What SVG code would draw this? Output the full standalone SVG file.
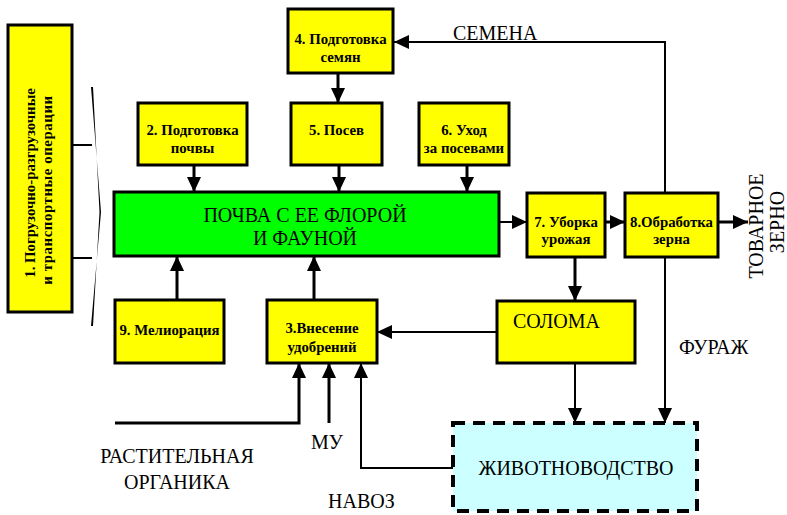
<svg xmlns="http://www.w3.org/2000/svg" width="787" height="515" viewBox="0 0 787 515">
<style>
.y{fill:#ffff00;stroke:#000;stroke-width:3}
.g{fill:#00ff00;stroke:#000;stroke-width:3}
.c{fill:#ccffff;stroke:#000;stroke-width:4;stroke-dasharray:12 8}
.b{font-family:'Liberation Serif','Times New Roman',Tinos,'DejaVu Serif',serif;font-weight:bold;font-size:14.8px;text-anchor:middle;fill:#000}
.t{font-family:'Liberation Serif','Times New Roman',Tinos,'DejaVu Serif',serif;font-size:20px;fill:#000}
.m{text-anchor:middle}
.k{fill:none;stroke:#000;stroke-width:3}
.n{fill:none;stroke:#000;stroke-width:2}
</style>
<defs>
<marker id="a" markerUnits="userSpaceOnUse" viewBox="0 0 15 14" refX="15" refY="7" markerWidth="15" markerHeight="14" orient="auto">
<path d="M0,0 L15,7 L0,14 Z" fill="#000"/>
</marker>
</defs>
<rect width="787" height="515" fill="#fff"/>
<g id="connectors">
<path class="k" d="M338,73 V103" marker-end="url(#a)"/>
<path class="k" d="M194,165 V192" marker-end="url(#a)"/>
<path class="k" d="M339,165 V192" marker-end="url(#a)"/>
<path class="k" d="M467,165 V192" marker-end="url(#a)"/>
<path class="n" d="M499,222 H527" marker-end="url(#a)"/>
<path class="k" d="M605,222 H625" marker-end="url(#a)"/>
<path class="k" d="M718,222 H748" marker-end="url(#a)"/>
<path class="n" d="M665,193 V42 H394" marker-end="url(#a)"/>
<path class="n" d="M665,257 V423" marker-end="url(#a)"/>
<path class="k" d="M575,257 V301" marker-end="url(#a)"/>
<path class="n" d="M575,363 V423" marker-end="url(#a)"/>
<path class="n" d="M497,332 H377" marker-end="url(#a)"/>
<path class="k" d="M177,300 V256" marker-end="url(#a)"/>
<path class="k" d="M314,300 V256" marker-end="url(#a)"/>
<path class="k" d="M115,423 H299 V363" marker-end="url(#a)"/>
<path class="k" d="M329,423 V363" marker-end="url(#a)"/>
<path class="n" d="M453,468 H361 V363" marker-end="url(#a)"/>
<path class="n" d="M72,145 H92 M72,258 H92"/>
<path d="M91,87 L101,212 L91,326 L93,326 L99.5,212 L93,87 Z" fill="#000"/>
</g>
<g id="n1">
<rect class="y" x="8" y="25" width="64" height="287"/>
<text class="b" transform="translate(35,183) rotate(-90)" font-size="14">1. Погрузочно-разгрузочные</text>
<text class="b" transform="translate(52,190) rotate(-90)" font-size="14" letter-spacing="0.6">и транспортные операции</text>
</g>
<g id="n4">
<rect class="y" x="288" y="9" width="105" height="64"/>
<text class="b" x="340.5" y="44">4. Подготовка</text>
<text class="b" x="340.5" y="62">семян</text>
</g>
<g id="n2">
<rect class="y" x="138" y="103" width="109" height="62"/>
<text class="b" x="192.5" y="135">2. Подготовка</text>
<text class="b" x="192.5" y="153">почвы</text>
</g>
<g id="n5">
<rect class="y" x="291" y="103" width="91" height="62"/>
<text class="b" x="336.5" y="135">5. Посев</text>
</g>
<g id="n6">
<rect class="y" x="419" y="103" width="90" height="62"/>
<text class="b" x="464" y="135">6. Уход</text>
<text class="b" x="464" y="153">за посевами</text>
</g>
<g id="soil">
<rect class="g" x="114" y="192" width="385" height="64"/>
<text class="t m" x="305" y="222">ПОЧВА С ЕЕ ФЛОРОЙ</text>
<text class="t m" x="305" y="245">И ФАУНОЙ</text>
</g>
<g id="n7">
<rect class="y" x="527" y="193" width="78" height="64"/>
<text class="b" x="566" y="227">7. Уборка</text>
<text class="b" x="566" y="244">урожая</text>
</g>
<g id="n8">
<rect class="y" x="625" y="193" width="93" height="64"/>
<text class="b" x="671.5" y="227">8.Обработка</text>
<text class="b" x="671.5" y="244">зерна</text>
</g>
<g id="straw">
<rect class="y" x="497" y="301" width="138" height="62"/>
<text class="t" x="513" y="328">СОЛОМА</text>
</g>
<g id="n9">
<rect class="y" x="115" y="300" width="109" height="63"/>
<text class="b" x="169.5" y="335">9. Мелиорация</text>
</g>
<g id="n3">
<rect class="y" x="267" y="300" width="110" height="63"/>
<text class="b" x="322" y="333">3.Внесение</text>
<text class="b" x="322" y="352">удобрений</text>
</g>
<g id="livestock">
<rect class="c" x="453" y="423" width="244" height="88"/>
<text class="t m" x="576" y="475">ЖИВОТНОВОДСТВО</text>
</g>
<g id="labels">
<text class="t" x="453" y="40">СЕМЕНА</text>
<text class="t m" transform="translate(763,226) rotate(-90)">ТОВАРНОЕ</text>
<text class="t m" transform="translate(784,222) rotate(-90)">ЗЕРНО</text>
<text class="t" x="679" y="354">ФУРАЖ</text>
<text class="t m" x="177" y="463">РАСТИТЕЛЬНАЯ</text>
<text class="t m" x="177" y="489">ОРГАНИКА</text>
<text class="t" x="311" y="449">МУ</text>
<text class="t" x="328" y="508">НАВОЗ</text>
</g>
</svg>
